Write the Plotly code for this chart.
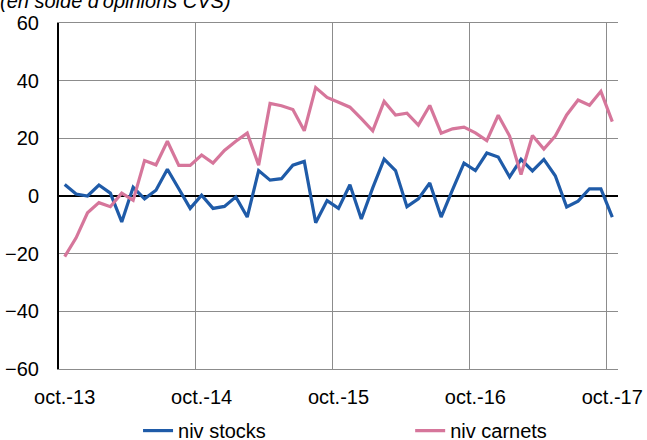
import plotly.graph_objects as go

FONT = "Arial, Liberation Sans, sans-serif"
BLUE = "#1F5BA8"
PINK = "#D6769B"
GRID = "#8C8C8C"

# monthly, oct-13 .. oct-17
months = list(range(49))
tick_pos = [0, 12, 24, 36, 48]
tick_labels = ["oct.-13", "oct.-14", "oct.-15", "oct.-16", "oct.-17"]

niv_stocks = [
    4, 0.7, 0, 3.8, 1, -9, 3, -1, 2, 9.3, 2.5, -4.3,
    0.3, -4.3, -3.6, -0.3, -7.3, 8.8, 5.5, 6, 10.7, 12, -9.3, -1.6,
    -4.3, 3.9, -8, 2.8, 12.8, 8.8, -3.7, -1, 4.5, -7.3, 2.2, 11.4,
    8.8, 14.9, 13.5, 6.6, 12.7, 8.7, 12.7, 7, -3.8, -1.8, 2.5, 2.5,
    -7.3,
]
niv_carnets = [
    -21, -14.5, -5.8, -2.3, -3.7, 1, -1.5, 12.3, 10.8, 19, 10.6, 10.6,
    14.2, 11.4, 15.8, 19, 21.8, 10.7, 32.1, 31.3, 30, 22.6, 37.6, 34.2,
    32.5, 30.8, 26.8, 22.6, 32.8, 28.1, 28.7, 24.6, 31.4, 21.8, 23.3, 23.9,
    21.9, 19.2, 28, 20.8, 7.4, 21, 16.3, 20.8, 28.1, 33.3, 31.5, 36.3,
    25.8,
]

fig = go.Figure()
fig.add_trace(go.Scatter(x=months, y=niv_stocks, mode="lines", name="niv stocks",
                         line=dict(color=BLUE, width=3.2), legend="legend"))
fig.add_trace(go.Scatter(x=months, y=niv_carnets, mode="lines", name="niv carnets",
                         line=dict(color=PINK, width=3.2), legend="legend2"))

fig.add_annotation(
    text="(en solde d'opinions CVS)", xref="paper", yref="paper",
    x=-0.109, y=1.064, xanchor="left", yanchor="middle", showarrow=False,
    font=dict(family=FONT, size=20, color="black", style="italic"),
)

leg_font = dict(family=FONT, size=20, color="black")
fig.update_layout(
    width=647, height=440,
    margin=dict(l=59, r=29, t=23, b=71, autoexpand=False),
    paper_bgcolor="white", plot_bgcolor="white",
    font=dict(family=FONT, size=20, color="black"),
    showlegend=True,
    legend=dict(x=0.1414, y=-0.178, xanchor="left", yanchor="middle",
                bgcolor="rgba(0,0,0,0)", font=leg_font),
    legend2=dict(x=0.6282, y=-0.178, xanchor="left", yanchor="middle",
                 bgcolor="rgba(0,0,0,0)", font=leg_font),
    xaxis=dict(
        range=[-0.5, 48.5], tickmode="array", tickvals=tick_pos, ticktext=tick_labels,
        showgrid=False, zeroline=False, ticks="", ticklabelstandoff=10,
        showline=True, linecolor=GRID, linewidth=1.3, mirror=True,
        minor=dict(tickmode="linear", tick0=-0.5, dtick=12, showgrid=True,
                   gridcolor=GRID, gridwidth=1.3, ticks=""),
    ),
    yaxis=dict(
        range=[-60, 60], dtick=20, showgrid=True, gridcolor=GRID, gridwidth=1.3,
        zeroline=True, zerolinecolor="black", zerolinewidth=2,
        showline=True, linecolor="black", linewidth=2, ticks="",
        ticklabelstandoff=14,
    ),
)

fig.write_html("out.html", config={"displayModeBar": False},
               post_script="document.body.style.margin='0';")
